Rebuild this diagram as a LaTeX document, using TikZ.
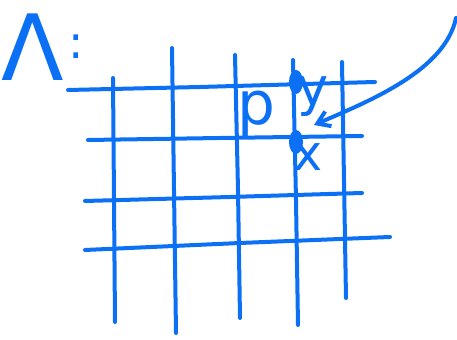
\documentclass[tikz,border=0pt]{standalone}
\usepackage{fontspec}
\usepackage{tikz}
\usetikzlibrary{arrows.meta,positioning,shapes.geometric}
\newfontfamily\handfont{DejaVu Sans}
\definecolor{pen}{RGB}{12,112,245}

\begin{document}
\begin{tikzpicture}[x=0.01cm, y=-0.01cm,
  stroke/.style={draw=pen, line width=0.04cm, line cap=round, line join=round},
  dot/.style={ellipse, fill=pen, inner sep=0pt, minimum width=0.14cm, minimum height=0.24cm},
  letter/.style={text=pen, inner sep=0pt},
  arrow/.style={stroke, -{Straight Barb[length=0.12cm, width=0.16cm]}}]
\useasboundingbox (0,0) rectangle (457,340);
% lattice lines
\draw[stroke] (68,90) -- (200,87) -- (375,82);
\draw[stroke] (88,140) -- (220,138) -- (362,136);
\draw[stroke] (85,201) -- (230,197) -- (362,193);
\draw[stroke] (85,250) -- (240,243) -- (390,237);
\draw[stroke] (113,78) -- (114,200) -- (115,322);
\draw[stroke] (172,48) -- (174,190) -- (176,333);
\draw[stroke] (235,55) -- (238,190) -- (240,318);
\draw[stroke] (293,60) -- (296,200) -- (298,325);
\draw[stroke] (342,62) -- (344,180) -- (346,298);
% points
\node[dot] (py) at (296,82) {};
\node[dot] (px) at (296,142) {};
\node[letter, font=\handfont\fontsize{17}{17}\selectfont] (p) at (256,114) {p};
\node[letter, font=\handfont\fontsize{15}{15}\selectfont] (y) at (313,97) {y};
\node[letter, font=\handfont\fontsize{14}{14}\selectfont] (x) at (308,157) {x};
\node[letter, font=\handfont\fontsize{26}{26}\selectfont] (lam) at (33,47) {Λ};
\node[letter, font=\handfont\fontsize{13}{13}\selectfont, right=0.03cm of lam] (colon) {:};
% pointer
\coordinate (tail) at (456,18);
\coordinate (tip) at (314,125);
\draw[arrow] (tail) .. controls (445,70) and (372,100) .. (tip);
\end{tikzpicture}
\end{document}
